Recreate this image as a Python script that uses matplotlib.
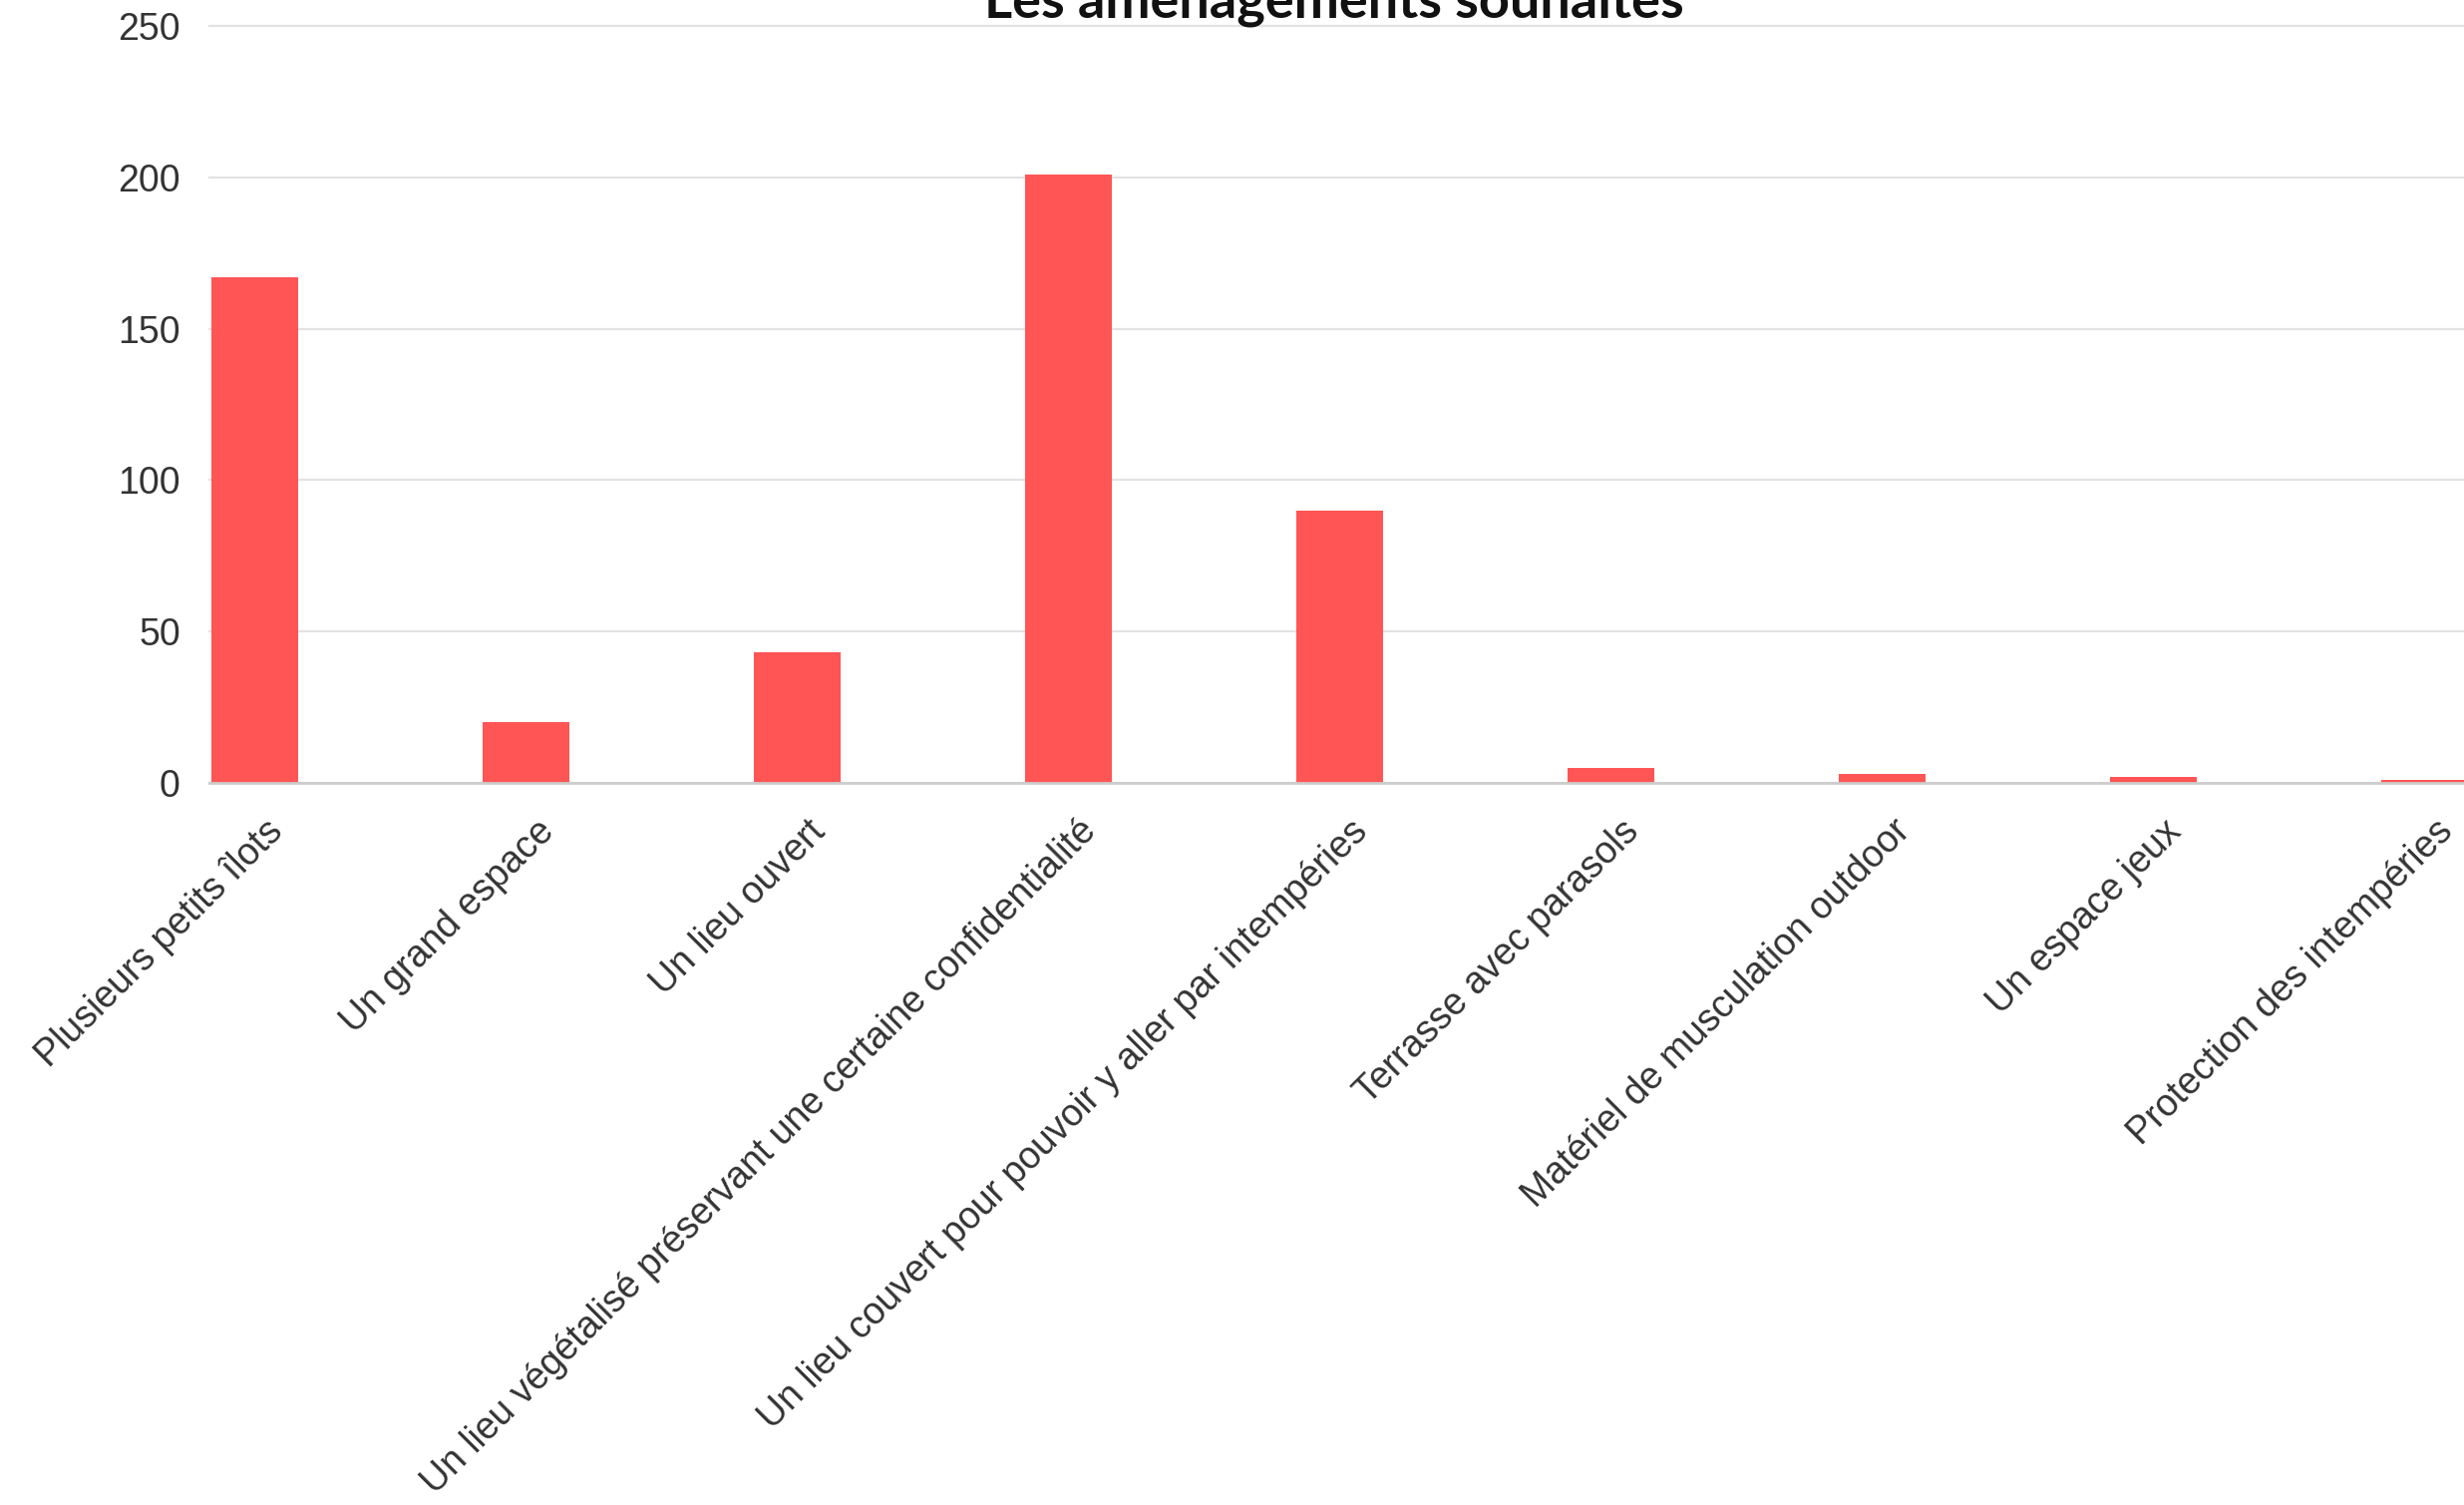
import matplotlib
matplotlib.use('Agg')
import matplotlib.pyplot as plt
import matplotlib.transforms as mtransforms
import numpy as np

# données
categories = [
    "Plusieurs petits îlots",
    "Un grand espace",
    "Un lieu ouvert",
    "Un lieu végétalisé préservant une certaine confidentialité",
    "Un lieu couvert pour pouvoir y aller par intempéries",
    "Terrasse avec parasols",
    "Matériel de musculation outdoor",
    "Un espace jeux",
    "Protection des intempéries",
]
values = [167, 20, 43, 201, 90, 5, 3, 2, 1]
yticks = [0, 50, 100, 150, 200, 250]
title = "Les aménagements souhaités"

bar_color = "#FF5555"
text_color = "#333333"

plt.rcParams['font.family'] = ['Liberation Sans', 'DejaVu Sans']

fig = plt.figure(figsize=(24.71, 15.09), dpi=100)
ax = fig.add_axes([0.085, 0.4798, 0.915, 0.503])

x = np.arange(len(categories))
ax.bar(x, values, width=0.32, color=bar_color, zorder=3)

ax.set_ylim(0, 250)
ax.set_xlim(-0.167, 8.145)
ax.set_yticks(yticks)
ax.set_yticklabels([str(v) for v in yticks], fontsize=27, color=text_color)
ax.tick_params(axis='y', length=0, pad=21)
ax.grid(axis='y', color='#E3E3E3', linewidth=1.6, zorder=0)
for line in ax.get_ygridlines():
    line.set_clip_on(False)

ax.set_xticks(x)
ax.set_xticklabels(categories, fontsize=27, color=text_color,
                   rotation=45, ha='right', va='top', rotation_mode='anchor')
ax.tick_params(axis='x', length=0, pad=22)
shift = mtransforms.ScaledTranslation(10 / 100, 0, fig.dpi_scale_trans)
for lab in ax.get_xticklabels():
    lab.set_transform(lab.get_transform() + shift)

for side in ['top', 'right', 'left']:
    ax.spines[side].set_visible(False)
ax.spines['bottom'].set_color('#CCCCCC')
ax.spines['bottom'].set_linewidth(2)
ax.spines['bottom'].set_zorder(4)

fig.text(0.5415, 0.9887, title, fontsize=39, fontweight='bold',
         family=['Lato', 'DejaVu Sans'], color='#111111',
         ha='center', va='baseline')

fig.savefig('out.png', dpi=100, facecolor='white')
